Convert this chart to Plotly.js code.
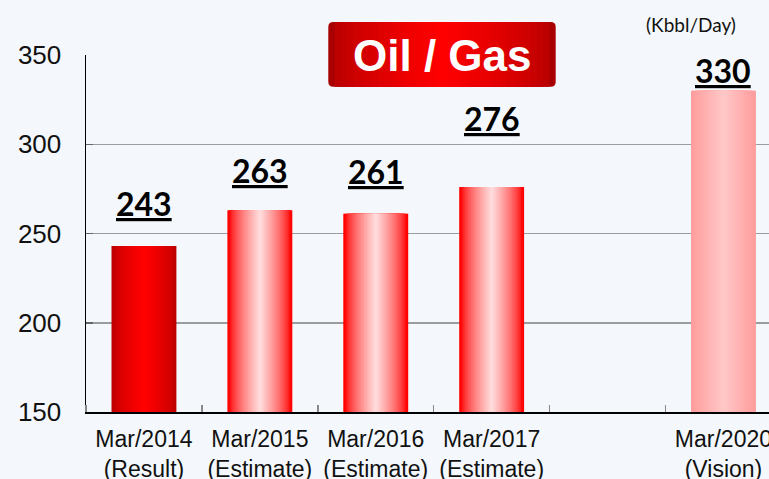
<!DOCTYPE html>
<html><head><meta charset="utf-8">
<script src="https://cdn.plot.ly/plotly-3.0.1.min.js"></script>
<style>html,body{margin:0;padding:0;background:#F4F8FC;overflow:hidden}</style>
</head><body><div id="chart" style="width:769px;height:479px"></div>
<script>
// ---- data ----
const categories = ['Mar/2014<br>(Result)','Mar/2015<br>(Estimate)','Mar/2016<br>(Estimate)','Mar/2017<br>(Estimate)','','Mar/2020<br>(Vision)'];
const values = [243, 263, 261, 276, null, 330];
const valueLabels = ['243', '263', '261', '276', '', '330'];
const yTicks = [150, 200, 250, 300, 350];
const chartTitle = 'Oil / Gas';
const unitLabel = '(Kbbl/Day)';

// ---- styles ----
const labelShift = [43, 40, 42, 69, 0, 20];
const barKind = ['result', 'estimate', 'estimate', 'estimate', 'estimate', 'vision'];
const gradients = {
  result:   {edge:[178,0,0],   center:[255,0,0],     off:0.0,  gamma:0.55},
  estimate: {edge:[255,0,0],   center:[255,222,222], off:0.06, gamma:0.7},
  vision:   {edge:[255,156,156], center:[255,200,200], off:0.0, gamma:1.0}
};
function mix(a, b, t){ return 'rgb(' + a.map((v,i)=>Math.round(v + (b[i]-v)*t)).join(',') + ')'; }
function gradColor(g, s){
  let t = Math.max(0, Math.min(1, (s - g.off) / (1 - g.off)));
  t = Math.pow(t, g.gamma);
  return mix(g.edge, g.center, t);
}
const BAR_W = 0.56, K = 22;
const xIdx = categories.map((_, i) => i);
const traces = [];
for (let k = 0; k < K; k++) {
  const s = (k + 0.5) / K;
  traces.push({
    type: 'bar', x: xIdx, y: values, width: BAR_W * (1 - k / K),
    marker: {color: barKind.map(kind => gradColor(gradients[kind], s)), line: {width: 0}},
    hoverinfo: 'skip', showlegend: false
  });
}

// title box (paper coords)
const L = 86, PW = 683, PT = 55, PH = 357;
const px = v => (v - L) / PW, py = v => (PT + PH - v) / PH;
const bx0 = px(328.3), bx1 = px(555.7), by0 = py(86.7), by1 = py(22);
const rx = 5 / PW, ry = 5 / PH;
const shapes = [];
const boxEdge = [168,0,0], boxCenter = [255,0,0];
const K2 = 18;
shapes.push({type:'path', xref:'paper', yref:'paper', line:{width:0}, fillcolor: mix(boxEdge, boxCenter, 0),
  path: `M ${bx0+rx},${by0} L ${bx1-rx},${by0} Q ${bx1},${by0} ${bx1},${by0+ry} L ${bx1},${by1-ry} Q ${bx1},${by1} ${bx1-rx},${by1} L ${bx0+rx},${by1} Q ${bx0},${by1} ${bx0},${by1-ry} L ${bx0},${by0+ry} Q ${bx0},${by0} ${bx0+rx},${by0} Z`});
const half = (bx1 - bx0) / 2;
for (let k = 1; k < K2; k++) {
  const inset = half * k / K2;
  shapes.push({type:'rect', xref:'paper', yref:'paper', line:{width:0},
    x0: bx0 + inset, x1: bx1 - inset, y0: by0, y1: by1,
    fillcolor: mix(boxEdge, boxCenter, Math.pow((k + 0.5) / K2, 0.6))});
}

const annotations = [];
values.forEach((v, i) => {
  if (v == null) return;
  annotations.push({x: i, y: v, xref: 'x', yref: 'y', showarrow: false, yanchor: 'middle', yshift: labelShift[i],
    text: '<b><u>' + valueLabels[i] + '</u></b>', font: {family: 'Lato', size: 32, color: '#000'}});
});
annotations.push({x: px(442), y: py(55.5), xref: 'paper', yref: 'paper', showarrow: false, yanchor: 'middle', xanchor: 'center',
  text: '<b>' + chartTitle + '</b>', font: {family: 'Liberation Sans, Arial', size: 44, color: '#fff'}});
annotations.push({x: px(691), y: py(24.5), xref: 'paper', yref: 'paper', showarrow: false, yanchor: 'middle', xanchor: 'center',
  text: unitLabel, font: {family: 'Lato', size: 19, color: '#111'}});

const layout = {
  width: 769, height: 479,
  margin: {l: L, r: 0, t: PT, b: 479 - PT - PH, pad: 0},
  paper_bgcolor: '#F4F8FC', plot_bgcolor: '#F4F8FC',
  barmode: 'overlay', showlegend: false,
  xaxis: {range: [-0.5, -0.5 + PW / 115.9], tickmode: 'array', tickvals: xIdx, ticktext: categories,
    ticks: '', showgrid: false, zeroline: false, showline: true, linecolor: '#000', linewidth: 1.5,
    tickfont: {family: 'Liberation Sans, Arial', size: 23, color: '#111'}, ticklabelstandoff: 6,
    ticklabeloverflow: 'allow',
    minor: {tickmode: 'array', tickvals: [-0.5, 0.5, 1.5, 2.5, 3.5, 4.5], ticks: 'inside', ticklen: 7,
      tickcolor: '#888', tickwidth: 1.5, showgrid: false},
    fixedrange: true},
  yaxis: {range: [150, 350], tickmode: 'array', tickvals: yTicks, ticks: 'inside', ticklen: 7, tickcolor: '#666', tickwidth: 1.5,
    showgrid: true, gridcolor: '#9c9c9c', gridwidth: 1.5, showline: true, linecolor: '#000', linewidth: 1.5, zeroline: false,
    tickfont: {family: 'Liberation Sans, Arial', size: 26, color: '#111'}, ticklabelstandoff: 18, fixedrange: true},
  shapes: shapes, annotations: annotations
};
Plotly.newPlot('chart', traces, layout, {staticPlot: true, displayModeBar: false});
</script></body></html>
